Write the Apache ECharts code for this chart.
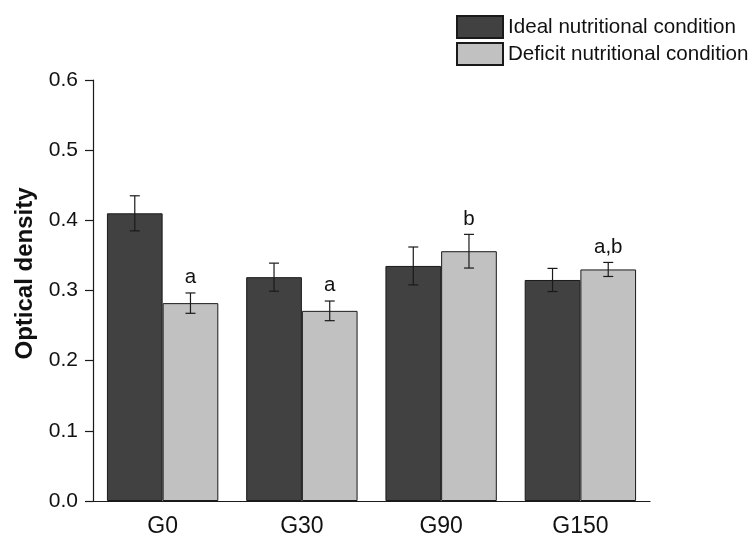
<!DOCTYPE html>
<html>
<head>
<meta charset="utf-8">
<script src="https://cdn.jsdelivr.net/npm/echarts@6/dist/echarts.min.js"></script>
<style>html,body{margin:0;padding:0;background:#fff}#c{width:755px;height:538px}</style>
</head>
<body>
<div id="c"></div>
<script>
var categories = ['G0', 'G30', 'G90', 'G150'];
var idealValues = [0.410, 0.319, 0.335, 0.315];
var idealErrors = [0.025, 0.020, 0.027, 0.0165];
var deficitValues = [0.282, 0.271, 0.356, 0.330];
var deficitErrors = [0.0145, 0.014, 0.024, 0.010];
var deficitLetters = ['a', 'a', 'b', 'a,b'];
var seriesNames = ['Ideal nutritional condition', 'Deficit nutritional condition'];
var yTicks = [0, 0.1, 0.2, 0.3, 0.4, 0.5, 0.6];

var FONT = '"Liberation Sans", Arial, sans-serif';

function errData(vals, errs, letters) {
  return vals.map(function (v, i) {
    return [i, v, v - errs[i], v + errs[i], letters ? letters[i] : ''];
  });
}

function makeErrRender(sign) {
  return function (params, api) {
    var idx = api.value(0);
    var band = api.size([1, 0])[0];
    var base = api.coord([idx, api.value(1)]);
    var x = base[0] + sign * 0.2 * band;
    var lo = api.coord([idx, api.value(2)])[1];
    var hi = api.coord([idx, api.value(3)])[1];
    var cap = 5;
    var st = { stroke: '#1a1a1a', lineWidth: 1.2 };
    var children = [
      { type: 'line', shape: { x1: x, y1: hi, x2: x, y2: lo }, style: st },
      { type: 'line', shape: { x1: x - cap, y1: hi, x2: x + cap, y2: hi }, style: st },
      { type: 'line', shape: { x1: x - cap, y1: lo, x2: x + cap, y2: lo }, style: st }
    ];
    var letter = api.value(4);
    if (letter) {
      children.push({
        type: 'text',
        style: {
          text: String(letter), x: x, y: hi - 5,
          align: 'center', verticalAlign: 'bottom',
          fill: '#111', font: '20.5px ' + FONT
        }
      });
    }
    return { type: 'group', children: children };
  };
}

var chart = echarts.init(document.getElementById('c'), null, { renderer: 'canvas' });
chart.setOption({
  backgroundColor: '#fff',
  animation: false,
  textStyle: { fontFamily: FONT },
  legend: {
    orient: 'vertical',
    left: 451,
    top: 10,
    itemWidth: 46,
    itemHeight: 22,
    itemGap: 3,
    icon: 'rect',
    data: seriesNames,
    textStyle: { fontSize: 20.6, color: '#111', fontFamily: FONT },
    selectedMode: false
  },
  grid: { left: 93, right: 105, top: 80, bottom: 35, containLabel: false },
  xAxis: {
    type: 'category',
    data: categories,
    axisLine: { lineStyle: { color: '#1a1a1a', width: 1.2 } },
    axisTick: { alignWithLabel: true, length: 8, lineStyle: { color: '#1a1a1a', width: 1.2 } },
    axisLabel: { fontSize: 23, color: '#111', margin: 14, fontFamily: FONT },
    splitLine: { show: false }
  },
  yAxis: {
    type: 'value',
    min: 0,
    max: 0.6,
    interval: 0.1,
    name: 'Optical density',
    nameLocation: 'middle',
    nameGap: 56,
    nameRotate: 90,
    nameTextStyle: { fontSize: 24, fontWeight: 'bold', color: '#111', fontFamily: FONT, padding: [0, 0, 0, 34] },
    axisLine: { show: true, lineStyle: { color: '#1a1a1a', width: 1.2 } },
    axisTick: { show: true, length: 8, lineStyle: { color: '#1a1a1a', width: 1.2 } },
    axisLabel: {
      fontSize: 21, color: '#111', margin: 15, fontFamily: FONT,
      formatter: function (v) { return v.toFixed(1); }
    },
    splitLine: { show: false }
  },
  series: [
    {
      name: seriesNames[0],
      type: 'bar',
      data: idealValues,
      barGap: '0%',
      barCategoryGap: '20%',
      itemStyle: { color: '#414141', borderColor: '#1a1a1a', borderWidth: 1 }
    },
    {
      name: seriesNames[1],
      type: 'bar',
      data: deficitValues,
      barGap: '0%',
      barCategoryGap: '20%',
      itemStyle: { color: '#c1c1c1', borderColor: '#1a1a1a', borderWidth: 1 }
    },
    {
      type: 'custom',
      z: 10,
      renderItem: makeErrRender(-1),
      data: errData(idealValues, idealErrors, null),
      encode: { x: 0, y: [1, 2, 3] },
      silent: true
    },
    {
      type: 'custom',
      z: 10,
      renderItem: makeErrRender(1),
      data: errData(deficitValues, deficitErrors, deficitLetters),
      encode: { x: 0, y: [1, 2, 3] },
      silent: true
    }
  ]
});
</script>
</body>
</html>
